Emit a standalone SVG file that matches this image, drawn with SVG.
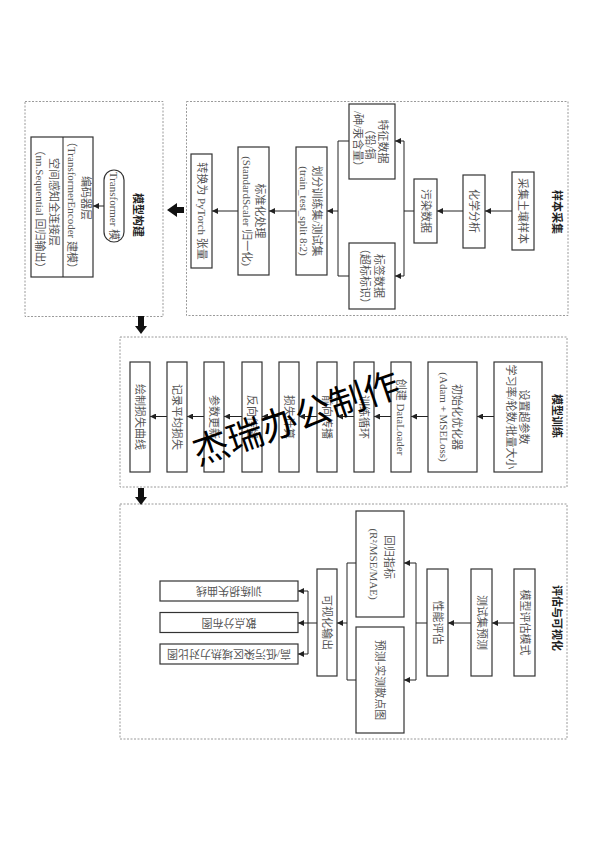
<svg xmlns="http://www.w3.org/2000/svg" width="594" height="841" viewBox="0 0 594 841">
<style>
.sec{fill:none;stroke:#9a9a9a;stroke-width:1;stroke-dasharray:2,1.5}
.box{fill:#fff;stroke:#333;stroke-width:1.2}
.t{font-family:"Liberation Serif","Noto Sans CJK SC",serif;font-size:11px;fill:#555;text-anchor:middle}
.ttl{font-family:"Liberation Serif","Noto Sans CJK SC",serif;font-size:11px;font-weight:bold;fill:#222;text-anchor:middle}
.ln{fill:none;stroke:#222;stroke-width:1}
.ar{fill:none;stroke:#222;stroke-width:1;marker-end:url(#ah)}
.big{fill:#111}
.wm{font-family:"Noto Sans CJK SC","Noto Sans",sans-serif;font-size:36px;fill:#000;text-anchor:middle}
</style>
<defs>
<marker id="ah" markerWidth="6" markerHeight="6" refX="6" refY="3" orient="auto" markerUnits="userSpaceOnUse">
<path d="M0,0 L6,3 L0,6 z" fill="#222"/>
</marker>
</defs>
<rect width="594" height="841" fill="#fff"/>

<g id="sections">
<rect class="sec" x="186.5" y="101.5" width="381.5" height="214"/>
<rect class="sec" x="25" y="101.5" width="138" height="215"/>
<rect class="sec" x="120" y="337" width="447" height="150"/>
<rect class="sec" x="120" y="504" width="447" height="235"/>
<text class="ttl" transform="translate(557,212) rotate(90)" y="4">样本采集</text>
<text class="ttl" transform="translate(138,215) rotate(90)" y="4">模型构建</text>
<text class="ttl" transform="translate(557,416) rotate(90)" y="4">模型训练</text>
<text class="ttl" transform="translate(557,618) rotate(90)" y="4">评估与可视化</text>
</g>

<g id="connectors">
<path class="ar" d="M512 211 H485"/>
<path class="ar" d="M463 211 H437"/>
<path class="ln" d="M414 211 H404 M404 141 V276"/>
<path class="ar" d="M404 141 H395"/>
<path class="ar" d="M404 276 H395"/>
<path class="ln" d="M349 141 H338 M349 276 H338 M338 141 V276"/>
<path class="ar" d="M338 211 H327"/>
<path class="ar" d="M296 211 H269"/>
<path class="ar" d="M238 211 H212"/>
<path class="ar" d="M104 206 H93"/>
<path class="ar" d="M494 416.5 H477"/>
<path class="ar" d="M428 416.5 H411"/>
<path class="ar" d="M391 416.5 H374"/>
<path class="ar" d="M354 416.5 H337"/>
<path class="ar" d="M317 416.5 H299"/>
<path class="ar" d="M279 416.5 H262"/>
<path class="ar" d="M242 416.5 H224"/>
<path class="ar" d="M204 416.5 H187"/>
<path class="ar" d="M167 416.5 H150"/>
<path class="ar" d="M514 623 H492"/>
<path class="ar" d="M471 623 H448"/>
<path class="ln" d="M427 623 H416 M416 563 V680"/>
<path class="ar" d="M416 563 H404"/>
<path class="ar" d="M416 680 H404"/>
<path class="ln" d="M356 563 H347 M356 680 H347 M347 563 V680"/>
<path class="ar" d="M347 623 H337"/>
<path class="ln" d="M317 623 H308 M308 591 V654"/>
<path class="ar" d="M308 591 H298"/>
<path class="ar" d="M308 623 H298"/>
<path class="ar" d="M308 654 H298"/>
<polygon class="big" points="167,210 177,203 177,207 184,207 184,213 177,213 177,217"/>
<polygon class="big" points="141,334 135,326 138,326 138,316 144,316 144,326 147,326"/>
<polygon class="big" points="141,505 135,497 138,497 138,488 144,488 144,497 147,497"/>
</g>

<g id="n_sample">
<rect class="box" x="512" y="172" width="22" height="78"/>
<text class="t" transform="translate(523,211) rotate(90)" y="4">采集土壤样本</text>
</g>
<g id="n_chem">
<rect class="box" x="463" y="175" width="22" height="73"/>
<text class="t" transform="translate(474,211) rotate(90)" y="4">化学分析</text>
</g>
<g id="n_poll">
<rect class="box" x="414" y="179" width="23" height="64"/>
<text class="t" transform="translate(425.5,211) rotate(90)" y="4">污染数据</text>
</g>
<g id="n_feat">
<rect class="box" x="349" y="104" width="46" height="75"/>
<text class="t" transform="translate(370,141.5) rotate(90)"><tspan x="0" y="-8.5">特征数据</tspan><tspan x="0" y="4">（铅/镉</tspan><tspan x="0" y="16.5">/砷/汞含量）</tspan></text>
</g>
<g id="n_label">
<rect class="box" x="349" y="243" width="46" height="66"/>
<text class="t" transform="translate(372,276) rotate(90)"><tspan x="0" y="-3">标签数据</tspan><tspan x="0" y="11">（超标标识）</tspan></text>
</g>
<g id="n_split">
<rect class="box" x="296" y="147" width="31" height="128"/>
<text class="t" transform="translate(310.5,211) rotate(90)"><tspan x="0" y="-2.5">划分训练集/测试集</tspan><tspan x="0" y="10.5">(train_test_split 8:2)</tspan></text>
</g>
<g id="n_scale">
<rect class="box" x="238" y="147" width="31" height="128"/>
<text class="t" transform="translate(253.5,211) rotate(90)"><tspan x="0" y="-2.5">标准化处理</tspan><tspan x="0" y="10.5">(StandardScaler 归一化)</tspan></text>
</g>
<g id="n_tensor">
<rect class="box" x="191" y="154" width="21" height="114"/>
<text class="t" transform="translate(201.5,211) rotate(90)" y="4">转换为 PyTorch 张量</text>
</g>

<g id="n_transformer">
<rect class="box" x="104" y="170" width="20" height="72" rx="10" ry="10"/>
<text class="t" transform="translate(114,206) rotate(90)" y="4">Transformer 模</text>
</g>
<g id="n_layers">
<rect class="box" x="31" y="137" width="62" height="140"/>
<line class="ln" x1="63" y1="137" x2="63" y2="277" stroke-width="1.2"/>
<text class="t" transform="translate(86,198) rotate(90)" y="4">编码器层</text>
<text class="t" transform="translate(72,205) rotate(90)" y="4">（TransformerEncoder 建模）</text>
<text class="t" transform="translate(54,202) rotate(90)" y="4">空间感知全连接层</text>
<text class="t" transform="translate(40,209) rotate(90)" y="4">（nn.Sequential 回归输出）</text>
</g>

<g id="n_hyper">
<rect class="box" x="494" y="362" width="48" height="110"/>
<text class="t" transform="translate(517.5,417) rotate(90)"><tspan x="0" y="-2.5">设置超参数</tspan><tspan x="0" y="10.5">学习率/轮数/批量大小</tspan></text>
</g>
<g id="n_opt">
<rect class="box" x="428" y="362" width="49" height="110"/>
<text class="t" transform="translate(450,417) rotate(90)"><tspan x="0" y="-2.5">初始化优化器</tspan><tspan x="0" y="10.5">(Adam + MSELoss)</tspan></text>
</g>
<g id="n_loader">
<rect class="box" x="391" y="362" width="20" height="110"/>
<text class="t" transform="translate(401,417) rotate(90)" y="4">创建 DataLoader</text>
</g>
<g id="n_loop">
<rect class="box" x="354" y="362" width="20" height="110"/>
<text class="t" transform="translate(364,417) rotate(90)" y="4">训练循环</text>
</g>
<g id="n_fwd">
<rect class="box" x="317" y="362" width="20" height="110"/>
<text class="t" transform="translate(327,417) rotate(90)" y="4">前向传播</text>
</g>
<g id="n_loss">
<rect class="box" x="279" y="362" width="20" height="110"/>
<text class="t" transform="translate(289,417) rotate(90)" y="4">损失计算</text>
</g>
<g id="n_bwd">
<rect class="box" x="242" y="362" width="20" height="110"/>
<text class="t" transform="translate(252,417) rotate(90)" y="4">反向传播</text>
</g>
<g id="n_upd">
<rect class="box" x="204" y="362" width="20" height="110"/>
<text class="t" transform="translate(214,417) rotate(90)" y="4">参数更新</text>
</g>
<g id="n_rec">
<rect class="box" x="167" y="362" width="20" height="110"/>
<text class="t" transform="translate(177,417) rotate(90)" y="4">记录平均损失</text>
</g>
<g id="n_plot">
<rect class="box" x="130" y="362" width="20" height="110"/>
<text class="t" transform="translate(140,417) rotate(90)" y="4">绘制损失曲线</text>
</g>

<g id="n_evalmode">
<rect class="box" x="514" y="569" width="21" height="107"/>
<text class="t" transform="translate(524.5,622.5) rotate(90)" y="4">模型评估模式</text>
</g>
<g id="n_testpred">
<rect class="box" x="471" y="569" width="21" height="107"/>
<text class="t" transform="translate(481.5,622.5) rotate(90)" y="4">测试集预测</text>
</g>
<g id="n_perf">
<rect class="box" x="427" y="569" width="21" height="107"/>
<text class="t" transform="translate(437.5,622.5) rotate(90)" y="4">性能评估</text>
</g>
<g id="n_metrics">
<rect class="box" x="356" y="511" width="48" height="106"/>
<text class="t" transform="translate(388.5,557) rotate(90)" y="4">回归指标</text>
<text class="t" transform="translate(374,564) rotate(90)" y="4">(R²/MSE/MAE)</text>
</g>
<g id="n_scatter">
<rect class="box" x="356" y="627" width="48" height="106"/>
<text class="t" transform="translate(380,680) rotate(90)" y="4">预测-实测散点图</text>
</g>
<g id="n_vis">
<rect class="box" x="317" y="569" width="20" height="107"/>
<text class="t" transform="translate(327,622.5) rotate(90)" y="4">可视化输出</text>
</g>
<g id="n_losscurve">
<rect class="box" x="160" y="581" width="138" height="20"/>
<text class="t" transform="translate(229,591) rotate(180)" y="4">训练损失曲线</text>
</g>
<g id="n_scatterdist">
<rect class="box" x="160" y="612.5" width="138" height="20"/>
<text class="t" transform="translate(229,622.5) rotate(180)" y="4">散点分布图</text>
</g>
<g id="n_heat">
<rect class="box" x="160" y="644" width="138" height="20"/>
<text class="t" transform="translate(229,654) rotate(180)" y="4">高/低污染区域热力对比图</text>
</g>

<text class="wm" transform="rotate(-19 296 418)" x="296" y="431">杰瑞办公制作</text>
</svg>
